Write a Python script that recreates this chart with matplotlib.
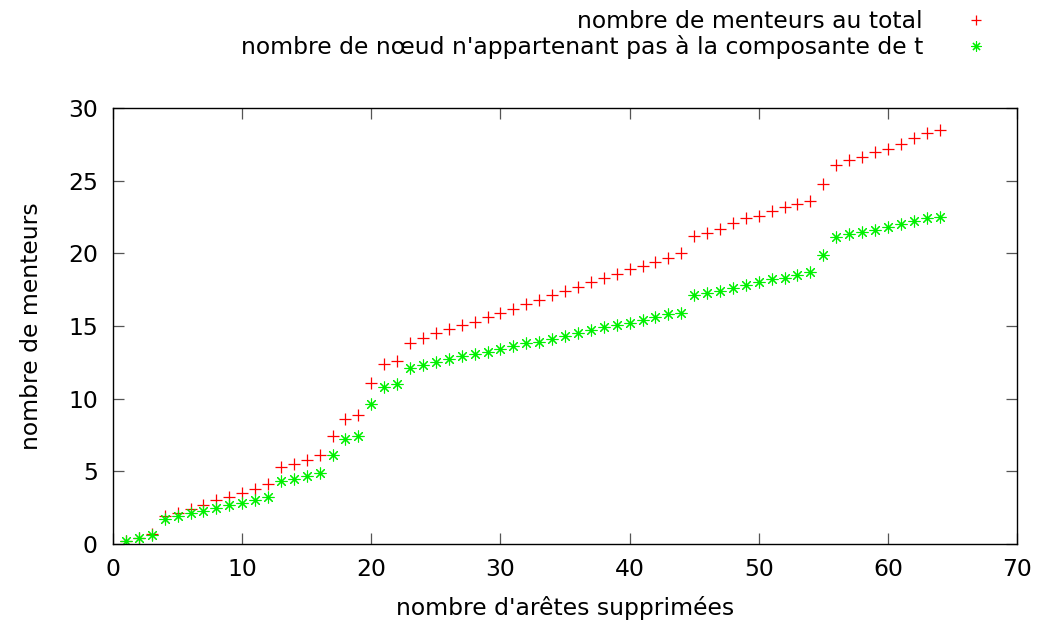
import matplotlib
matplotlib.use('agg')

import matplotlib.pyplot as plt

# nombre d'arêtes supprimées
aretes = list(range(1, 65))

# nombre de menteurs au total
menteurs = [0.2, 0.4, 0.7, 1.9, 2.1, 2.4, 2.7, 3.0, 3.2, 3.5,
            3.8, 4.1, 5.3, 5.5, 5.8, 6.1, 7.4, 8.6, 8.9, 11.1,
            12.4, 12.6, 13.8, 14.2, 14.5, 14.8, 15.1, 15.3, 15.6, 15.9,
            16.2, 16.5, 16.8, 17.1, 17.4, 17.7, 18.0, 18.3, 18.6, 18.9,
            19.1, 19.4, 19.7, 20.0, 21.2, 21.4, 21.7, 22.1, 22.4, 22.6,
            22.9, 23.2, 23.4, 23.6, 24.8, 26.1, 26.4, 26.6, 27.0, 27.2,
            27.5, 27.9, 28.3, 28.5]

# nombre de noeuds hors de la composante de t
hors_composante = [0.2, 0.4, 0.6, 1.7, 1.9, 2.1, 2.3, 2.5, 2.7, 2.8,
                   3.0, 3.2, 4.3, 4.5, 4.7, 4.9, 6.1, 7.2, 7.4, 9.6,
                   10.8, 11.0, 12.1, 12.3, 12.5, 12.7, 12.9, 13.1, 13.2, 13.4,
                   13.6, 13.8, 13.9, 14.1, 14.3, 14.5, 14.7, 14.9, 15.1, 15.2,
                   15.4, 15.6, 15.8, 15.9, 17.1, 17.3, 17.4, 17.6, 17.8, 18.0,
                   18.2, 18.3, 18.5, 18.7, 19.9, 21.1, 21.3, 21.5, 21.6, 21.8,
                   22.0, 22.2, 22.4, 22.5]

plt.rcParams['font.family'] = 'DejaVu Sans'
plt.rcParams['font.size'] = 16.9

fig = plt.figure(figsize=(10.4, 6.27), dpi=100)
ax = fig.add_axes([0.1087, 0.1324, 0.8692, 0.6954])

ax.plot(aretes, menteurs, linestyle='none', marker='+', color='#ff0000',
        markersize=8.5, markeredgewidth=0.9, label='nombre de menteurs au total')
ax.plot(aretes, hors_composante, linestyle='none', marker=(8, 2, 0), color='#00f000',
        markersize=8.5, markeredgewidth=0.8,
        label="nombre de nœud n'appartenant pas à la composante de t")

ax.set_xlim(0, 70)
ax.set_ylim(0, 30)
ax.set_xticks(range(0, 71, 10))
ax.set_yticks(range(0, 31, 5))
for s in ax.spines.values():
    s.set_linewidth(1.0)
ax.tick_params(direction='in', top=True, right=True, length=8, width=0.9,
               color='#555555')
ax.tick_params(axis='y', pad=11)
ax.tick_params(axis='x', pad=10)
ax.set_xlabel("nombre d'arêtes supprimées", labelpad=11)
ax.set_ylabel('nombre de menteurs', labelpad=18)

fig.legend(loc='upper right', bbox_to_anchor=(0.9495, 0.984), frameon=False,
           markerfirst=False, handlelength=1.0, handletextpad=1.75,
           labelspacing=0.1, borderpad=0, borderaxespad=0, markerscale=0.85)

plt.savefig('out.png')
